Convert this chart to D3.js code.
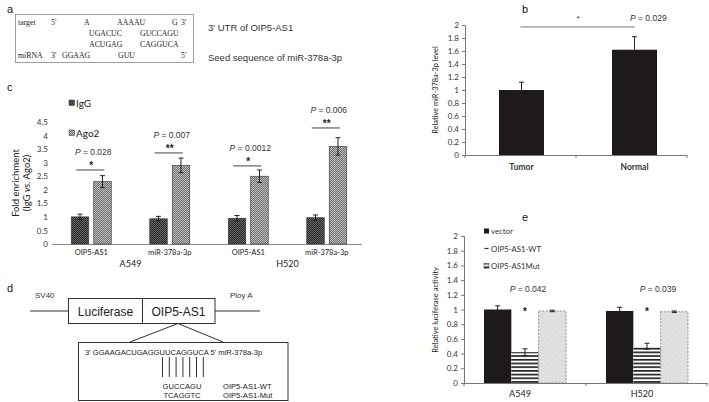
<!DOCTYPE html>
<html><head><meta charset="utf-8">
<script src="https://cdn.jsdelivr.net/npm/d3@7"></script>
<style>body{margin:0;background:#fff}svg{display:block}</style>
</head><body><svg id="c" width="709" height="402" font-family="Liberation Sans, Arial, sans-serif"></svg>
<script>
// ---- Panel b data ----
const bCats = ["Tumor", "Normal"];
const bVals = [1.0, 1.62];
const bErr = [0.12, 0.2];
const bTicks = [0, 0.2, 0.4, 0.6, 0.8, 1, 1.2, 1.4, 1.6, 1.8, 2];

// ---- Panel c data ----
const cCats = ["OIP5-AS1", "miR-378a-3p", "OIP5-AS1", "miR-378a-3p"];
const cCells = ["A549", "H520"];
const cSeries = ["IgG", "Ago2"];
const cIgG = [1.0, 0.93, 0.95, 0.97];
const cIgGErr = [0.1, 0.09, 0.1, 0.1];
const cAgo2 = [2.3, 2.9, 2.5, 3.6];
const cAgo2Err = [0.22, 0.27, 0.23, 0.32];
const cSigY = [2.73, 3.36, 2.88, 4.28];
const cStars = ["*", "**", "*", "**"];
const cP = ["0.028", "0.007", "0.0012", "0.006"];
const cTicks = [0, 0.5, 1, 1.5, 2, 2.5, 3, 3.5, 4, 4.5];

// ---- Panel e data ----
const eCats = ["A549", "H520"];
const eSeries = ["vector", "OIP5-AS1-WT", "OIP5-AS1Mut"];
const eVector = [1.0, 0.98];
const eVectorErr = [0.05, 0.05];
const eWT = [0.42, 0.5];
const eWTErr = [0.045, 0.04];
const eMut = [0.98, 0.97];
const eMutErr = [0.01, 0.01];
const eP = ["0.042", "0.039"];
const eTicks = [0, 0.2, 0.4, 0.6, 0.8, 1, 1.2, 1.4, 1.6, 1.8, 2];

const SANS = "Liberation Sans, Arial, sans-serif";
const CAL = "Lato, sans-serif";
const svg = d3.select("#c");
const defs = svg.append("defs");
function checker(id, base, alt, s) {
  const p = defs.append("pattern").attr("id", id).attr("patternUnits", "userSpaceOnUse").attr("width", 2*s).attr("height", 2*s);
  p.append("rect").attr("width", 2*s).attr("height", 2*s).attr("fill", base);
  p.append("rect").attr("width", s).attr("height", s).attr("fill", alt);
  p.append("rect").attr("x", s).attr("y", s).attr("width", s).attr("height", s).attr("fill", alt);
}
checker("pIgG", "#262626", "#6a6a6a", 1);
checker("pAgo2", "#6a6a6a", "#c4c4c4", 1);
checker("pMut", "#cfcfcf", "#efefef", 1.2);
{
  const p = defs.append("pattern").attr("id", "pWT").attr("patternUnits", "userSpaceOnUse").attr("width", 4).attr("height", 3.7);
  p.append("rect").attr("width", 4).attr("height", 3.7).attr("fill", "#fff");
  p.append("rect").attr("width", 4).attr("height", 1.7).attr("fill", "#222");
}

function label(x, y, t, size) {
  svg.append("text").attr("x", x).attr("y", y).attr("font-family", SANS).attr("font-size", size || 12).attr("fill", "#111").text(t);
}
function pText(g, x, y, val, size, anchor) {
  const t = g.append("text").attr("x", x).attr("y", y).attr("font-family", SANS).attr("font-size", size).attr("fill", "#333").attr("text-anchor", anchor || "middle");
  t.append("tspan").attr("font-style", "italic").text("P");
  t.append("tspan").text(" = " + val);
}

// ================= Panel a =================
label(7, 13, "a", 11);
svg.append("rect").attr("x", 15.5).attr("y", 14.5).attr("width", 178).attr("height", 48).attr("fill", "none").attr("stroke", "#888").attr("stroke-width", 0.8);
const ga = svg.append("g").attr("font-family", "Liberation Serif, serif").attr("font-size", 7.8).attr("fill", "#222");
const seqA = [
  [18, 25, "target"], [51, 25, "5'"], [84, 25, "A"], [117, 25, "AAAAU"], [172, 25, "G"], [181, 25, "3'"],
  [89, 36, "UGACUC"], [140, 36, "GUCCAGU"],
  [89, 47, "ACUGAG"], [140, 47, "CAGGUCA"],
  [18, 58, "miRNA"], [51, 58, "3'"], [62, 58, "GGAAG"], [118, 58, "GUU"], [181, 58, "5'"]
];
seqA.forEach(d => ga.append("text").attr("x", d[0]).attr("y", d[1]).text(d[2]));
svg.append("text").attr("x", 208).attr("y", 31).attr("font-family", SANS).attr("font-size", 9.5).attr("fill", "#333").text("3' UTR of OIP5-AS1");
svg.append("text").attr("x", 208).attr("y", 61).attr("font-family", SANS).attr("font-size", 9.5).attr("fill", "#333").text("Seed sequence of miR-378a-3p");

// ================= Panel b =================
label(522, 13, "b", 11);
{
  const x = d3.scaleBand().domain(bCats).range([465, 687]);
  const y = d3.scaleLinear().domain([0, 2]).range([155, 25]);
  const g = svg.append("g");
  g.append("g").attr("transform", "translate(465,0)")
    .call(d3.axisLeft(y).tickValues(bTicks).tickFormat(d3.format("")).tickSize(3).tickPadding(3))
    .call(a => { a.select(".domain").attr("stroke", "#777"); a.selectAll("line").attr("stroke", "#777"); a.selectAll("text").attr("font-family", CAL).attr("font-size", 8).attr("fill", "#333"); });
  g.append("line").attr("x1", 465).attr("x2", 687).attr("y1", 155.5).attr("y2", 155.5).attr("stroke", "#777");
  [465, 576, 687].forEach(v => g.append("line").attr("x1", v).attr("x2", v).attr("y1", 155).attr("y2", 158).attr("stroke", "#777"));
  const bw = 45;
  bCats.forEach((c, i) => {
    const cx = x(c) + x.bandwidth() / 2 + (i === 0 ? 1 : 3);
    g.append("rect").attr("x", cx - bw/2).attr("y", y(bVals[i])).attr("width", bw).attr("height", y(0) - y(bVals[i])).attr("fill", "#1e1a1a");
    g.append("line").attr("x1", cx).attr("x2", cx).attr("y1", y(bVals[i] + bErr[i])).attr("y2", y(bVals[i])).attr("stroke", "#222");
    g.append("line").attr("x1", cx - 2.5).attr("x2", cx + 2.5).attr("y1", y(bVals[i] + bErr[i])).attr("y2", y(bVals[i] + bErr[i])).attr("stroke", "#222");
    g.append("text").attr("x", cx).attr("y", 170).attr("text-anchor", "middle").attr("font-family", CAL).attr("font-weight", "bold").attr("font-size", 8.5).attr("fill", "#333").text(c);
  });
  const c0 = x(bCats[0]) + x.bandwidth()/2, c1 = x(bCats[1]) + x.bandwidth()/2 + 3;
  g.append("line").attr("x1", c0).attr("x2", c1).attr("y1", y(1.97)).attr("y2", y(1.97)).attr("stroke", "#777");
  g.append("text").attr("x", 578).attr("y", 21).attr("text-anchor", "middle").attr("font-family", SANS).attr("font-size", 8).attr("fill", "#333").text("*");
  pText(g, 630, 21, "0.029", 8.5, "start");
  g.append("text").attr("transform", "translate(438,90) rotate(-90)").attr("text-anchor", "middle").attr("font-family", CAL).attr("font-size", 7.4).attr("fill", "#222").text("Relative miR-378a-3p level");
}

// ================= Panel c =================
label(7, 91, "c", 11);
{
  const x0 = d3.scaleBand().domain(d3.range(cCats.length)).range([52, 366]);
  const x1 = d3.scaleBand().domain(cSeries).range([0, 40]).paddingInner(0.22);
  const y = d3.scaleLinear().domain([0, 4.5]).range([244, 122]);
  const g = svg.append("g");
  g.append("g").attr("transform", "translate(52,0)")
    .call(d3.axisLeft(y).tickValues(cTicks).tickFormat(d3.format("")).tickSize(0).tickPadding(4))
    .call(a => { a.select(".domain").remove(); a.selectAll("text").attr("font-family", CAL).attr("font-size", 8).attr("fill", "#333"); });
  g.append("line").attr("x1", 52).attr("x2", 362).attr("y1", 244.5).attr("y2", 244.5).attr("stroke", "#888");
  const vals = [cIgG, cAgo2], errs = [cIgGErr, cAgo2Err], fills = ["url(#pIgG)", "url(#pAgo2)"];
  cCats.forEach((c, i) => {
    const gc = x0(i) + x0.bandwidth() / 2;
    cSeries.forEach((s, k) => {
      const bx = gc - 20 + x1(s), v = vals[k][i], e = errs[k][i];
      g.append("rect").attr("x", bx).attr("y", y(v)).attr("width", x1.bandwidth()).attr("height", y(0) - y(v)).attr("fill", fills[k]).attr("stroke", "#333").attr("stroke-width", 0.6);
      const cx = bx + x1.bandwidth() / 2;
      g.append("line").attr("x1", cx).attr("x2", cx).attr("y1", y(v + e)).attr("y2", y(v - e)).attr("stroke", "#222");
      g.append("line").attr("x1", cx - 2.5).attr("x2", cx + 2.5).attr("y1", y(v + e)).attr("y2", y(v + e)).attr("stroke", "#222");
      g.append("line").attr("x1", cx - 2.5).attr("x2", cx + 2.5).attr("y1", y(v - e)).attr("y2", y(v - e)).attr("stroke", "#222");
    });
    g.append("text").attr("x", gc).attr("y", 255).attr("text-anchor", "middle").attr("font-family", CAL).attr("font-size", 7.5).attr("fill", "#222").text(c);
    const sy = y(cSigY[i]);
    g.append("line").attr("x1", gc - 15).attr("x2", gc + 13).attr("y1", sy).attr("y2", sy).attr("stroke", "#444");
    g.append("text").attr("x", gc).attr("y", sy - 1).attr("text-anchor", "middle").attr("font-family", SANS).attr("font-size", 10).attr("font-weight", "bold").attr("fill", "#222").text(cStars[i]);
    pText(g, gc + 2, sy - 15, cP[i], 8.5);
  });
  cCells.forEach((cl, j) => {
    const cx = (x0(2*j) + x0(2*j + 1) + x0.bandwidth()) / 2;
    g.append("text").attr("x", cx).attr("y", 267).attr("text-anchor", "middle").attr("font-family", CAL).attr("font-size", 9).attr("fill", "#222").text(cl);
  });
  cSeries.forEach((s, k) => {
    const ly = 103 + k * 30;
    g.append("rect").attr("x", 69).attr("y", ly - 3).attr("width", 5.5).attr("height", 5.5).attr("fill", fills[k]).attr("stroke", "#333").attr("stroke-width", 0.5);
    g.append("text").attr("x", 76).attr("y", ly + 3.5).attr("font-family", CAL).attr("font-size", 10).attr("fill", "#222").text(s);
  });
  g.append("text").attr("transform", "translate(19,183) rotate(-90)").attr("text-anchor", "middle").attr("font-family", CAL).attr("font-size", 9.5).attr("fill", "#222").text("Fold enrichment");
  const yl = g.append("text").attr("transform", "translate(30,183) rotate(-90)").attr("text-anchor", "middle").attr("font-family", CAL).attr("font-size", 9.5).attr("fill", "#222");
  yl.append("tspan").text("(IgG ");
  yl.append("tspan").attr("font-style", "italic").text("vs.");
  yl.append("tspan").text(" Ago2)");
}

// ================= Panel d =================
label(7, 292, "d", 11);
{
  const g = svg.append("g").attr("font-family", SANS);
  g.append("text").attr("x", 35).attr("y", 298).attr("font-size", 8).attr("fill", "#333").text("SV40");
  g.append("text").attr("x", 230).attr("y", 298).attr("font-size", 8).attr("fill", "#333").text("Ploy A");
  g.append("line").attr("x1", 30).attr("x2", 68).attr("y1", 311).attr("y2", 311).attr("stroke", "#333");
  g.append("line").attr("x1", 215).attr("x2", 260).attr("y1", 311).attr("y2", 311).attr("stroke", "#333");
  g.append("rect").attr("x", 68.5).attr("y", 298.5).attr("width", 146.5).attr("height", 25).attr("fill", "none").attr("stroke", "#333");
  g.append("line").attr("x1", 142.5).attr("x2", 142.5).attr("y1", 298.5).attr("y2", 323.5).attr("stroke", "#333");
  g.append("text").attr("x", 105.5).attr("y", 316).attr("text-anchor", "middle").attr("font-size", 12).attr("fill", "#222").text("Luciferase");
  g.append("text").attr("x", 178.5).attr("y", 316).attr("text-anchor", "middle").attr("font-size", 12).attr("fill", "#222").text("OIP5-AS1");
  g.append("line").attr("x1", 178).attr("x2", 130).attr("y1", 323.5).attr("y2", 342).attr("stroke", "#333");
  g.append("line").attr("x1", 178).attr("x2", 223).attr("y1", 323.5).attr("y2", 342).attr("stroke", "#333");
  g.append("rect").attr("x", 78.5).attr("y", 342.5).attr("width", 209.5).attr("height", 58).attr("fill", "none").attr("stroke", "#333");
  g.append("text").attr("x", 85).attr("y", 355).attr("font-size", 7.6).attr("fill", "#222").text("3' GGAAGACUGAGGUUCAGGUCA 5' miR-378a-3p");
  for (let i = 0; i < 7; i++) {
    const lx = 162.5 + i * 6.8;
    g.append("line").attr("x1", lx).attr("x2", lx).attr("y1", 357).attr("y2", 377).attr("stroke", "#333");
  }
  g.append("text").attr("x", 182).attr("y", 389).attr("text-anchor", "middle").attr("font-size", 7.6).attr("fill", "#222").text("GUCCAGU");
  g.append("text").attr("x", 182).attr("y", 398).attr("text-anchor", "middle").attr("font-size", 7.6).attr("fill", "#222").text("TCAGGTC");
  g.append("text").attr("x", 223).attr("y", 389).attr("font-size", 7.6).attr("fill", "#222").text("OIP5-AS1-WT");
  g.append("text").attr("x", 223).attr("y", 398).attr("font-size", 7.6).attr("fill", "#222").text("OIP5-AS1-Mut");
}

// ================= Panel e =================
label(522, 221, "e", 11);
{
  const x0 = d3.scaleBand().domain(eCats).range([464, 708]);
  const x1 = d3.scaleBand().domain(eSeries).range([0, 82]);
  const y = d3.scaleLinear().domain([0, 2]).range([383, 236]);
  const g = svg.append("g");
  g.append("g").attr("transform", "translate(464,0)")
    .call(d3.axisLeft(y).tickValues(eTicks).tickFormat(d3.format("")).tickSize(3).tickPadding(3))
    .call(a => { a.select(".domain").attr("stroke", "#777"); a.selectAll("line").attr("stroke", "#777"); a.selectAll("text").attr("font-family", CAL).attr("font-size", 8).attr("fill", "#333"); });
  g.append("line").attr("x1", 464).attr("x2", 708).attr("y1", 383.5).attr("y2", 383.5).attr("stroke", "#777");
  [464, 586, 707].forEach(v => g.append("line").attr("x1", v).attr("x2", v).attr("y1", 383).attr("y2", 386).attr("stroke", "#777"));
  const vals = [eVector, eWT, eMut], errs = [eVectorErr, eWTErr, eMutErr];
  const fills = ["#1e1a1a", "url(#pWT)", "url(#pMut)"];
  eCats.forEach((c, i) => {
    const gc = x0(c) + x0.bandwidth() / 2;
    eSeries.forEach((s, k) => {
      const bx = gc - 41 + x1(s), v = vals[k][i], e = errs[k][i];
      const r = g.append("rect").attr("x", bx).attr("y", y(v)).attr("width", x1.bandwidth()).attr("height", y(0) - y(v)).attr("fill", fills[k]);
      if (k === 2) r.attr("stroke", "#777").attr("stroke-width", 0.8).attr("stroke-dasharray", "2,1.5");
      const cx = bx + x1.bandwidth() / 2;
      g.append("line").attr("x1", cx).attr("x2", cx).attr("y1", y(v + e)).attr("y2", y(v - e)).attr("stroke", "#222");
      g.append("line").attr("x1", cx - 2.5).attr("x2", cx + 2.5).attr("y1", y(v + e)).attr("y2", y(v + e)).attr("stroke", "#222");
      g.append("line").attr("x1", cx - 2.5).attr("x2", cx + 2.5).attr("y1", y(v - e)).attr("y2", y(v - e)).attr("stroke", "#222");
      if (k === 1) g.append("text").attr("x", cx).attr("y", y(0.92)).attr("text-anchor", "middle").attr("font-family", SANS).attr("font-size", 10).attr("font-weight", "bold").attr("fill", "#222").text("*");
    });
    pText(g, gc + (i === 0 ? 3 : 11), y(1.24), eP[i], 8.5);
    g.append("text").attr("x", gc - 5).attr("y", 397).attr("text-anchor", "middle").attr("font-family", CAL).attr("font-size", 9).attr("fill", "#222").text(c);
  });
  // legend
  const lg = g.append("g").attr("font-family", CAL).attr("font-size", 7.8).attr("fill", "#333");
  eSeries.forEach((s, k) => {
    const ly = 231 + k * 17.5;
    if (k === 0) lg.append("rect").attr("x", 484).attr("y", ly - 2.5).attr("width", 5).attr("height", 5).attr("fill", "#1e1a1a");
    if (k === 1) lg.append("line").attr("x1", 484.5).attr("x2", 488.5).attr("y1", ly).attr("y2", ly).attr("stroke", "#333").attr("stroke-width", 1.2);
    if (k === 2) lg.append("rect").attr("x", 484).attr("y", ly - 2.5).attr("width", 5).attr("height", 5).attr("fill", "url(#pWT)").attr("stroke", "#555").attr("stroke-width", 0.6);
    lg.append("text").attr("x", 491).attr("y", ly + 3).text(s);
  });
  g.append("text").attr("transform", "translate(438,310) rotate(-90)").attr("text-anchor", "middle").attr("font-family", CAL).attr("font-size", 7.5).attr("fill", "#222").text("Relative luciferase activity");
}
</script></body></html>
